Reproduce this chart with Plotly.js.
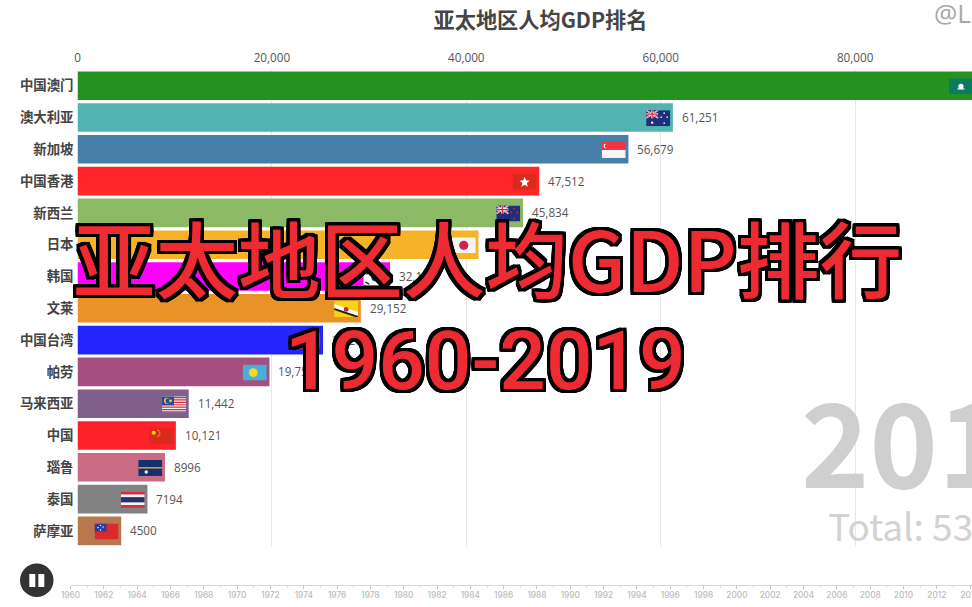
<!DOCTYPE html>
<html>
<head>
<meta charset="utf-8">
<script src="https://cdn.plot.ly/plotly-3.0.1.min.js"></script>
<style>html,body{margin:0;padding:0;background:#fff;overflow:hidden}#chart{width:972px;height:607px}</style>
</head>
<body>
<div id="chart"></div>
<script>
// ---- data ----
const categories = ['中国澳门','澳大利亚','新加坡','中国香港','新西兰','日本','韩国','文莱','中国台湾','帕劳','马来西亚','中国','瑙鲁','泰国','萨摩亚'];
const gdpValues  = [92400,61251,56679,47512,45834,41250,32150,29152,25260,19750,11442,10121,8996,7194,4500];
const barColors  = ['#23921f','#52b3b3','#4480a8','#ff2529','#8cba64','#f6b327','#ff00ff','#e99228','#2424ff','#a44f7f','#80608a','#ff2329','#c96b83','#828282','#b8774f'];
const years      = [1960,1962,1964,1966,1968,1970,1972,1974,1976,1978,1980,1982,1984,1986,1988,1990,1992,1994,1996,1998,2000,2002,2004,2006,2008,2010,2012,2014];
const yearLine   = years.map(() => 0);
const chartTitle = '亚太地区人均GDP排名';
const overlayTitle = '亚太地区人均GDP排行';
const overlayRange = '1960-2019';
const bigYear = '2019';
const totalText = 'Total: 53';
const watermark = '@L';

// ---- flags ----
const uj = '<rect width="12" height="8" fill="#1c2f7d"/><path d="M0 0L12 8M12 0L0 8" stroke="#fff" stroke-width="1.6"/><path d="M0 0L12 8M12 0L0 8" stroke="#d22" stroke-width=".6"/><path d="M6 0V8M0 4H12" stroke="#fff" stroke-width="2.4"/><path d="M6 0V8M0 4H12" stroke="#d22" stroke-width="1.2"/>';
const flagArt = [
 '<rect width="24" height="16" fill="#0c7a5f"/><circle cx="12" cy="8" r="2.6" fill="#fff"/><rect x="8.5" y="10" width="7" height="1.2" fill="#fff"/>',
 '<rect width="24" height="16" fill="#1c2f7d"/>'+uj+'<circle cx="6" cy="12.5" r="1.2" fill="#fff"/><circle cx="18" cy="3" r=".8" fill="#fff"/><circle cx="21" cy="7" r=".8" fill="#fff"/><circle cx="15" cy="7" r=".8" fill="#fff"/><circle cx="18" cy="13" r=".8" fill="#fff"/>',
 '<rect width="24" height="8" fill="#ef3340"/><rect y="8" width="24" height="8" fill="#f6f6f6"/><circle cx="4" cy="4" r="2.2" fill="#fff"/><circle cx="5" cy="4" r="2" fill="#ef3340"/>',
 '<rect width="24" height="16" fill="#d92a1c"/><path d="M12 3L13.4 6.6L17 6.9L14.2 9.2L15.2 13L12 11L8.8 13L9.8 9.2L7 6.9L10.6 6.6Z" fill="#fff"/>',
 '<rect width="24" height="16" fill="#1c2f7d"/>'+uj+'<circle cx="18" cy="3" r="1" fill="#d22"/><circle cx="21" cy="7" r="1" fill="#d22"/><circle cx="15" cy="7" r="1" fill="#d22"/><circle cx="18" cy="13" r="1" fill="#d22"/>',
 '<rect width="24" height="16" fill="#f8f4f0"/><circle cx="12" cy="8" r="4.6" fill="#c8264a"/>',
 '<rect width="24" height="16" fill="#f8f8f8"/><path d="M8 8a4 4 0 0 1 8 0z" fill="#c8264a"/><path d="M8 8a4 4 0 0 0 8 0z" fill="#1c3f8a"/><path d="M2 3L6 1M3 5L7 3M18 13L22 11M17 11L21 9M2 13L6 15M18 3L22 5" stroke="#222" stroke-width="1.2"/>',
 '<rect width="24" height="16" fill="#f7d417"/><path d="M0 3L24 11V15L0 7Z" fill="#fff"/><path d="M0 7L24 15V16H21L0 9Z" fill="#222"/><circle cx="12" cy="8.5" r="2.4" fill="#c8264a"/>',
 '<rect width="24" height="16" fill="#e02a24"/><rect width="12" height="8" fill="#2030a0"/><circle cx="6" cy="4" r="2" fill="#fff"/>',
 '<rect width="24" height="16" fill="#4aaed8"/><circle cx="10.5" cy="8" r="4.4" fill="#f6d81c"/>',
 '<rect width="24" height="16" fill="#f4f4f4"/><path d="M0 1.2H24M0 3.6H24M0 6H24M0 8.4H24M0 10.8H24M0 13.2H24M0 15.4H24" stroke="#d83040" stroke-width="1.2"/><rect width="12" height="9" fill="#2a4a9c"/><circle cx="5" cy="4.5" r="3" fill="#f6d81c"/><circle cx="6" cy="4.5" r="2.5" fill="#2a4a9c"/><circle cx="8.5" cy="4.5" r="1.4" fill="#f6d81c"/>',
 '<rect width="24" height="16" fill="#d92a1c"/><circle cx="4.5" cy="4.5" r="2" fill="#f6d81c"/><circle cx="9" cy="2" r=".7" fill="#f6d81c"/><circle cx="10.5" cy="4" r=".7" fill="#f6d81c"/><circle cx="10.5" cy="6.5" r=".7" fill="#f6d81c"/><circle cx="9" cy="8" r=".7" fill="#f6d81c"/>',
 '<rect width="24" height="16" fill="#16306e"/><rect y="7.3" width="24" height="1.2" fill="#f6c81c"/><circle cx="8" cy="12" r="1.7" fill="#fff"/>',
 '<rect width="24" height="16" fill="#d22a3a"/><rect y="2.7" width="24" height="10.6" fill="#f4f4f4"/><rect y="5.4" width="24" height="5.2" fill="#28306e"/>',
 '<rect width="24" height="16" fill="#d92a2e"/><rect width="12" height="8" fill="#2a3f9c"/><circle cx="6" cy="1.8" r=".7" fill="#fff"/><circle cx="3.5" cy="4" r=".7" fill="#fff"/><circle cx="8.5" cy="3.5" r=".7" fill="#fff"/><circle cx="6" cy="6.4" r=".7" fill="#fff"/>'
];
const flagUri = s => 'data:image/svg+xml;charset=utf-8,' + encodeURIComponent('<svg xmlns="http://www.w3.org/2000/svg" width="48" height="32" viewBox="0 0 24 16" preserveAspectRatio="none">' + s + '</svg>');

// ---- page geometry helpers ----
const W = 972, H = 607;
const px = x => x / W;
const py = y => 1 - y / H;
const plotL = 77.5, plotT = 69.8, plotB = 546.8;
const unitsPerPx = 20000 / 194.4;
const axisMax = (W - plotL) * unitsPerPx;
const tlL = 70.5, pxPerYear = 16.66;
const cjk = '"Noto Sans CJK SC", sans-serif';

// square-cornered text outline
const R = 3;
const offs = [];
for (let t = -R; t <= R; t += 1) {
  offs.push([t, -R], [t, R], [-R, t], [R, t]);
}
const outline = offs.map(o => o[0] + 'px ' + o[1] + 'px 0 #000').join(',');

const fmt = v => v >= 10000 ? v.toLocaleString('en-US') : String(v);

const valueLabels = gdpValues.map((v, i) => ({
  text: fmt(v), x: v, y: i, xref: 'x', yref: 'y', xanchor: 'left', yanchor: 'middle', xshift: 7, yshift: 0.5,
  showarrow: false, font: {family: '"Open Sans", sans-serif', size: 11.7, color: '#555'}
})).filter(a => a.x < axisMax);

const bigText = (text, x, y, font) => ({text, x: px(x), y: py(y), xref: 'paper', yref: 'paper', xanchor: 'left', yanchor: 'middle', showarrow: false, font, align: 'left'});

const annotations = valueLabels.concat([
  bigText(bigYear, 799, 437, {family: cjk, size: 116, weight: 700, color: '#cfcfcf'}),
  bigText(totalText, 826, 525, {family: cjk, size: 37, weight: 400, color: '#d2d2d2'}),
  bigText(watermark, 932, 13, {family: '"Open Sans", sans-serif', size: 26, color: '#a8a8a8'}),
  bigText(overlayTitle, 71, 256, {family: cjk, size: 82.5, weight: 500, color: '#ee2a33', shadow: outline}),
  bigText(overlayRange, 283, 361, {family: 'Roboto, sans-serif', size: 82, weight: 500, color: '#ee2a33', shadow: outline})
]);

const images = gdpValues.map((v, i) => ({
  source: flagUri(flagArt[i]), xref: 'x', yref: 'y', x: v - 2.7 * unitsPerPx, y: i + 0.02,
  sizex: 24 * unitsPerPx, sizey: 16 / 31.8, xanchor: 'right', yanchor: 'middle', sizing: 'stretch', layer: 'above'
}));

const traces = [
  {type: 'bar', orientation: 'h', x: gdpValues, y: categories, marker: {color: barColors, line: {width: 0}}, width: 0.9, hoverinfo: 'skip', xaxis: 'x', yaxis: 'y'},
  {type: 'scatter', mode: 'lines', x: years, y: yearLine, line: {width: 0}, hoverinfo: 'skip', xaxis: 'x2', yaxis: 'y2'}
];

const layout = {
  width: W, height: H, margin: {l: 0, r: 0, t: 0, b: 0, pad: 0}, paper_bgcolor: '#fff', plot_bgcolor: '#fff',
  showlegend: false,
  title: {text: chartTitle, x: px(540.5), xanchor: 'center', y: py(21), yanchor: 'middle', font: {family: cjk, size: 21.2, weight: 700, color: '#454545'}},
  xaxis: {domain: [px(plotL), 1], range: [0, axisMax], side: 'top', anchor: 'y', tickvals: [0, 20000, 40000, 60000, 80000], tickformat: ',d', ticks: '', ticklen: 0, ticklabelstandoff: 4,
    gridcolor: '#e8e8e8', gridwidth: 1, zeroline: false, showline: false, tickfont: {family: '"Open Sans", sans-serif', size: 11.7, color: '#555'}},
  yaxis: {domain: [py(plotB), py(plotT)], type: 'category', categoryorder: 'array', categoryarray: categories, range: [14.5, -0.5], anchor: 'x', ticks: '', showgrid: false, zeroline: false, showline: false, ticklabelstandoff: 3,
    tickfont: {family: cjk, size: 13.4, weight: 700, color: '#444'}, automargin: false},
  xaxis2: {domain: [px(tlL), 1], range: [1960, 1960 + (W - tlL) / pxPerYear], anchor: 'y2', side: 'bottom', tickmode: 'array', tickvals: years, ticks: 'outside', ticklen: 3.5, tickcolor: '#c4c4c4', tickwidth: 1, ticklabelstandoff: -1, ticklabeloverflow: 'allow',
    minor: {dtick: 1, ticks: 'outside', ticklen: 2, tickcolor: '#dcdcdc'}, showline: true, linecolor: '#d8d8d8', linewidth: 1, showgrid: false, zeroline: false,
    tickfont: {family: 'Inter, sans-serif', size: 8.3, weight: 500, color: '#bbbbbb'}},
  yaxis2: {domain: [py(584.5), py(575)], anchor: 'x2', range: [0, 1], visible: false, fixedrange: true},
  annotations, images,
  shapes: [
    {type: 'circle', xref: 'paper', yref: 'paper', x0: px(20), x1: px(53.5), y0: py(597), y1: py(563.5), fillcolor: '#333333', line: {width: 0}},
    {type: 'rect', xref: 'paper', yref: 'paper', x0: px(29.3), x1: px(35.3), y0: py(587), y1: py(574), fillcolor: '#fff', line: {width: 0}},
    {type: 'rect', xref: 'paper', yref: 'paper', x0: px(38.3), x1: px(44.3), y0: py(587), y1: py(574), fillcolor: '#fff', line: {width: 0}}
  ]
};
Plotly.newPlot('chart', traces, layout, {displayModeBar: false, responsive: false, staticPlot: true});
</script>
</body>
</html>
